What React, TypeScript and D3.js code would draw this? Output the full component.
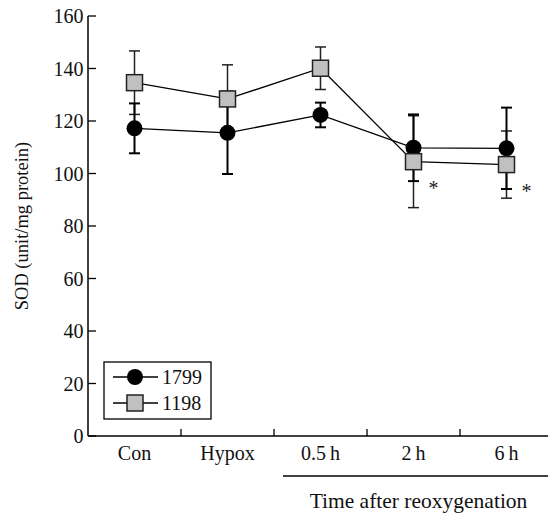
import React from "react";
import * as d3 from "d3";

const categories = ["Con", "Hypox", "0.5\u2009h", "2\u2009h", "6\u2009h"];
const s1799 = [117.2, 115.5, 122.3, 109.8, 109.6];
const e1799 = [9.5, 15.7, 4.7, 12.7, 15.5];
const s1198 = [134.6, 128.4, 140.1, 104.5, 103.4];
const e1198 = [12.1, 13.0, 8.1, 17.5, 12.8];
const yTicks = [0, 20, 40, 60, 80, 100, 120, 140, 160];
const starred = [3, 4];

const W = 548;
const H = 514;
const FONT = "'Liberation Serif', 'Times New Roman', serif";

export default function App() {
  const x = d3.scaleBand<string>().domain(categories).range([88, 553]).padding(0);
  const y = d3.scaleLinear().domain([0, 160]).range([436, 16]);
  const cx = (i: number) => (x(categories[i]) as number) + x.bandwidth() / 2;
  const line = d3
    .line<number>()
    .x((_, i) => cx(i))
    .y((d) => y(d));
  const cap = 5.5;

  const errBars = (vals: number[], errs: number[], color: string, sw: number) =>
    vals.map((v, i) => (
      <g key={i} stroke={color} strokeWidth={sw}>
        <line x1={cx(i)} x2={cx(i)} y1={y(v - errs[i])} y2={y(v + errs[i])} />
        <line x1={cx(i) - cap} x2={cx(i) + cap} y1={y(v + errs[i])} y2={y(v + errs[i])} />
        <line x1={cx(i) - cap} x2={cx(i) + cap} y1={y(v - errs[i])} y2={y(v - errs[i])} />
      </g>
    ));

  const sq = 16;
  const x0 = 88;
  const yBase = y(0);

  return (
    <svg width={W} height={H} style={{ position: "absolute", left: 0, top: 0 }} fontFamily={FONT}>
      <rect x={0} y={0} width={W} height={H} fill="#fff" />
      {errBars(s1198, e1198, "#222", 1.5)}
      {errBars(s1799, e1799, "#000", 2)}
      <path d={line(s1799) || ""} fill="none" stroke="#000" strokeWidth={1.3} />
      <path d={line(s1198) || ""} fill="none" stroke="#000" strokeWidth={1.3} />
      {s1799.map((v, i) => (
        <circle key={"c" + i} cx={cx(i)} cy={y(v)} r={8} fill="#000" />
      ))}
      {s1198.map((v, i) => (
        <rect
          key={"s" + i}
          x={cx(i) - sq / 2}
          y={y(v) - sq / 2}
          width={sq}
          height={sq}
          fill="#c0c0c0"
          stroke="#222"
          strokeWidth={1.5}
        />
      ))}
      {starred.map((i) => (
        <text key={"a" + i} x={cx(i) + 20} y={y(s1198[i]) + 33} fontSize={20} textAnchor="middle" fill="#222">
          *
        </text>
      ))}
      <line x1={x0} x2={x0} y1={y(160)} y2={yBase} stroke="#000" strokeWidth={1.5} />
      <line x1={x0} x2={560} y1={yBase} y2={yBase} stroke="#000" strokeWidth={1.5} />
      {yTicks.map((t) => (
        <g key={t}>
          <line x1={x0} x2={x0 + 8} y1={y(t)} y2={y(t)} stroke="#000" strokeWidth={1.3} />
          <text x={x0 - 4.5} y={y(t) + 7} fontSize={20} textAnchor="end" fill="#111">
            {t}
          </text>
        </g>
      ))}
      {categories.slice(1).map((c) => (
        <line key={c} x1={x(c) as number} x2={x(c) as number} y1={yBase} y2={yBase - 7} stroke="#000" strokeWidth={1.3} />
      ))}
      {categories.map((c, i) => (
        <text key={c} x={cx(i)} y={yBase + 24} fontSize={20} textAnchor="middle" fill="#111">
          {c}
        </text>
      ))}
      <line x1={283} x2={560} y1={476} y2={476} stroke="#000" strokeWidth={1.3} />
      <text x={418.5} y={508} fontSize={21.5} textAnchor="middle" fill="#111">
        Time after reoxygenation
      </text>
      <text
        transform={`translate(27.5, ${(y(160) + yBase) / 2}) rotate(-90)`}
        fontSize={18.5}
        textAnchor="middle"
        fill="#111"
      >
        SOD (unit/mg protein)
      </text>
      <rect x={104} y={362} width={107} height={57} fill="#fff" stroke="#000" strokeWidth={1.3} />
      <line x1={113} x2={158} y1={377} y2={377} stroke="#000" strokeWidth={1.3} />
      <circle cx={135} cy={377} r={8} fill="#000" />
      <text x={162} y={384} fontSize={20} fill="#111">1799</text>
      <line x1={113} x2={158} y1={403} y2={403} stroke="#000" strokeWidth={1.3} />
      <rect x={135 - sq / 2} y={403 - sq / 2} width={sq} height={sq} fill="#c0c0c0" stroke="#222" strokeWidth={1.5} />
      <text x={162} y={410} fontSize={20} fill="#111">1198</text>
    </svg>
  );
}
